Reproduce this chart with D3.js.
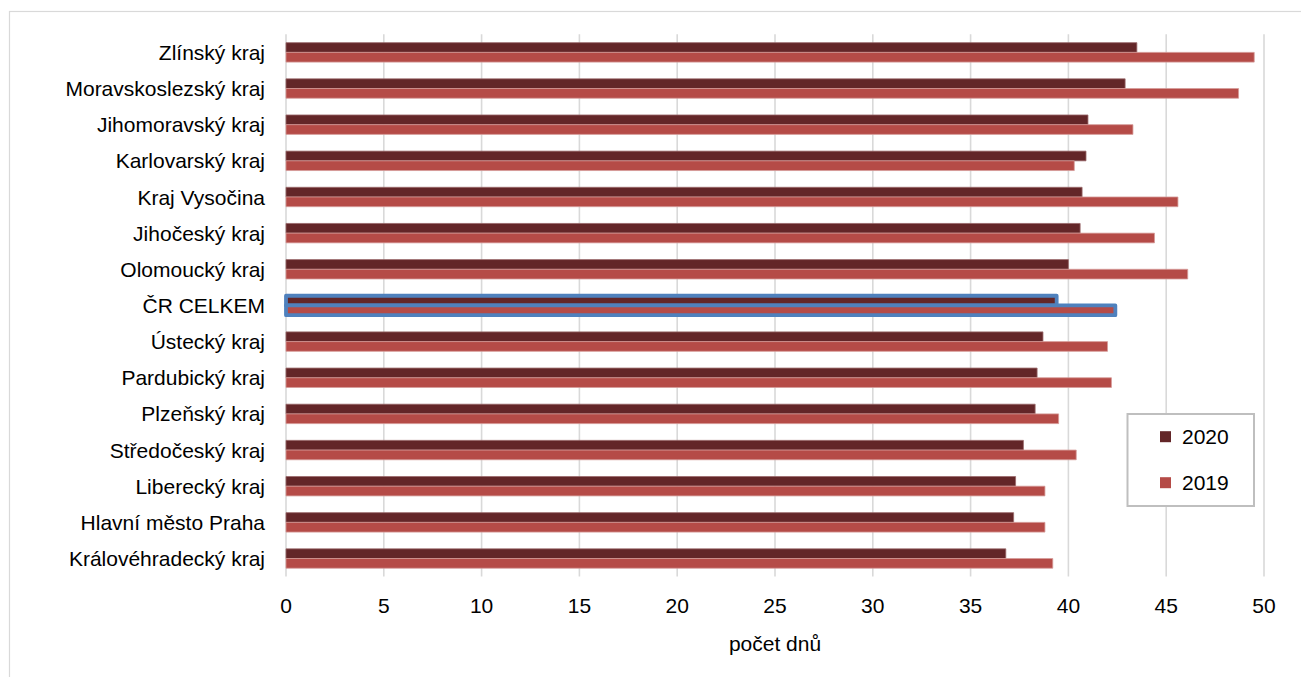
<!DOCTYPE html>
<html>
<head>
<meta charset="utf-8">
<script src="https://cdn.jsdelivr.net/npm/d3@7"></script>
<style>
  html, body { margin: 0; padding: 0; background: #fff; }
  svg { display: block; font-family: "Liberation Sans", Arial, sans-serif; }
</style>
</head>
<body>
<svg id="chart" width="1301" height="677"></svg>
<script>
// Regions, sorted by the 2020 value (highest on top)
const categories = [
  "Zlínský kraj", "Moravskoslezský kraj", "Jihomoravský kraj", "Karlovarský kraj",
  "Kraj Vysočina", "Jihočeský kraj", "Olomoucký kraj", "ČR CELKEM", "Ústecký kraj",
  "Pardubický kraj", "Plzeňský kraj", "Středočeský kraj", "Liberecký kraj",
  "Hlavní město Praha", "Královéhradecký kraj"
];
const values2020 = [43.5, 42.9, 41.0, 40.9, 40.7, 40.6, 40.0, 39.4, 38.7, 38.4, 38.3, 37.7, 37.3, 37.2, 36.8];
const values2019 = [49.5, 48.7, 43.3, 40.3, 45.6, 44.4, 46.1, 42.4, 42.0, 42.2, 39.5, 40.4, 38.8, 38.8, 39.2];
const seriesNames = ["2020", "2019"];
const xTicks = [0, 5, 10, 15, 20, 25, 30, 35, 40, 45, 50];
const xTitle = "počet dnů";
const highlighted = "ČR CELKEM";

const colors = { "2020": "#632628", "2019": "#B54B47" };
const edge = { "2020": "#9a6a6b", "2019": "#d69a98" };

const svg = d3.select("#chart");

// chart area frame
svg.append("rect")
  .attr("x", 9.5).attr("y", 11.5)
  .attr("width", 1400).attr("height", 800)
  .attr("fill", "none").attr("stroke", "#d9d9d9").attr("stroke-width", 1.2);

const x = d3.scaleLinear().domain([0, 50]).range([286, 1264]);
const y = d3.scaleBand().domain(categories).range([34.3, 576.6]).padding(0);
const ySub = d3.scaleBand().domain(seriesNames).range([0, y.bandwidth()])
  .paddingInner(0).paddingOuter(0.863);

// vertical gridlines
svg.append("g").selectAll("line")
  .data(xTicks)
  .join("line")
  .attr("x1", d => x(d)).attr("x2", d => x(d))
  .attr("y1", y.range()[0]).attr("y2", y.range()[1])
  .attr("stroke", "#d9d9d9").attr("stroke-width", 1.6);

// bars
const rows = categories.map((c, i) => ({ cat: c, vals: { "2020": values2020[i], "2019": values2019[i] } }));
const groups = svg.append("g").selectAll("g")
  .data(rows)
  .join("g")
  .attr("transform", d => `translate(0,${y(d.cat)})`);

groups.selectAll("rect")
  .data(d => seriesNames.map(s => ({ s, v: d.vals[s], hl: d.cat === highlighted })))
  .join("rect")
  .attr("x", x(0))
  .attr("y", d => ySub(d.s))
  .attr("width", d => x(d.v) - x(0))
  .attr("height", ySub.bandwidth())
  .attr("fill", d => colors[d.s])
  .attr("stroke", d => d.hl ? "#4f81bd" : edge[d.s])
  .attr("stroke-width", d => d.hl ? 3.8 : 0.8)
  .attr("stroke-linejoin", "round");

// category labels
svg.append("g").selectAll("text")
  .data(categories)
  .join("text")
  .attr("x", 265)
  .attr("y", d => y(d) + y.bandwidth() / 2)
  .attr("dy", "0.36em")
  .attr("text-anchor", "end")
  .attr("font-size", 21)
  .attr("fill", "#000")
  .text(d => d);

// x axis tick labels
svg.append("g").selectAll("text")
  .data(xTicks)
  .join("text")
  .attr("x", d => x(d))
  .attr("y", 612.5)
  .attr("text-anchor", "middle")
  .attr("font-size", 21)
  .attr("fill", "#000")
  .text(d => d);

// x axis title
svg.append("text")
  .attr("x", 775).attr("y", 651)
  .attr("text-anchor", "middle")
  .attr("font-size", 21)
  .attr("fill", "#000")
  .text(xTitle);

// legend
const legend = svg.append("g");
legend.append("rect")
  .attr("x", 1127.5).attr("y", 414)
  .attr("width", 126.5).attr("height", 92)
  .attr("fill", "#fff").attr("stroke", "#bfbfbf").attr("stroke-width", 2);
const items = legend.selectAll("g")
  .data(seriesNames)
  .join("g")
  .attr("transform", (d, i) => `translate(1160,${436.7 + i * 46})`);
items.append("rect")
  .attr("x", 0).attr("y", -5.5)
  .attr("width", 11).attr("height", 11)
  .attr("fill", d => colors[d]);
items.append("text")
  .attr("x", 22).attr("y", 0).attr("dy", "0.36em")
  .attr("font-size", 21).attr("fill", "#000")
  .text(d => d);
</script>
</body>
</html>
